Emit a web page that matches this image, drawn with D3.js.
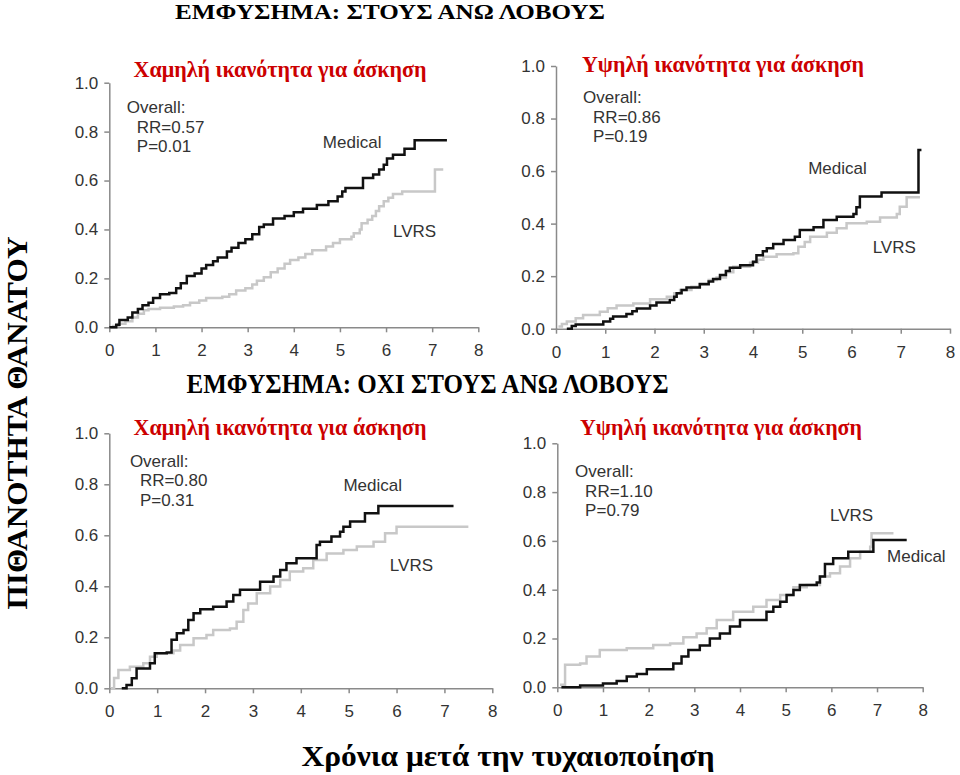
<!DOCTYPE html>
<html>
<head>
<meta charset="utf-8">
<script src="https://cdn.jsdelivr.net/npm/d3@7"></script>
<style>
  body { margin: 0; background: #fff; }
  .box { width: 960px; height: 775px; }
</style>
</head>
<body>
<div class="box"></div>
<script>
// tick labels
const xTicks = [0, 1, 2, 3, 4, 5, 6, 7, 8];
const yTicks = [0, 0.2, 0.4, 0.6, 0.8, 1.0];

// texts
const mainTitleTop = 'ΕΜΦΥΣΗΜΑ: ΣΤΟΥΣ ΑΝΩ ΛΟΒΟΥΣ';
const mainTitleBottom = 'ΕΜΦΥΣΗΜΑ: ΟΧΙ ΣΤΟΥΣ ΑΝΩ ΛΟΒΟΥΣ';
const yLabel = 'ΠΙΘΑΝΟΤΗΤΑ ΘΑΝΑΤΟΥ';
const xLabel = 'Χρόνια μετά την τυχαιοποίηση';
const panelTitles = ['Χαμηλή ικανότητα για άσκηση', 'Υψηλή ικανότητα για άσκηση',
                     'Χαμηλή ικανότητα για άσκηση', 'Υψηλή ικανότητα για άσκηση'];
const rrValues = ['RR=0.57', 'RR=0.86', 'RR=0.80', 'RR=1.10'];
const pValues = ['P=0.01', 'P=0.19', 'P=0.31', 'P=0.79'];

// step curves [years, probability] - upper lobe, low exercise
const tlMedical = [[0,0],[0.15,0.01],[0.22,0.03],[0.4,0.04],[0.5,0.06],[0.62,0.075],[0.72,0.09],[0.85,0.1],[0.95,0.12],
  [1.1,0.135],[1.3,0.14],[1.45,0.16],[1.55,0.18],[1.68,0.21],[1.85,0.22],[2.0,0.24],[2.1,0.255],[2.25,0.27],[2.35,0.285],
  [2.55,0.31],[2.65,0.325],[2.8,0.345],[2.95,0.36],[3.1,0.38],[3.25,0.41],[3.35,0.42],[3.55,0.445],[3.8,0.455],[4.0,0.47],
  [4.2,0.485],[4.5,0.5],[4.75,0.515],[4.95,0.535],[5.05,0.555],[5.12,0.57],[5.5,0.61],[5.72,0.625],[5.85,0.645],
  [5.95,0.665],[6.02,0.69],[6.15,0.705],[6.4,0.73],[6.62,0.765],[7.32,0.765]];
const tlLVRS = [[0,0],[0.08,0.005],[0.2,0.015],[0.35,0.025],[0.5,0.04],[0.62,0.055],[0.75,0.07],[0.85,0.075],[1.1,0.08],
  [1.4,0.085],[1.6,0.09],[1.75,0.1],[1.95,0.11],[2.1,0.12],[2.45,0.125],[2.6,0.135],[2.75,0.15],[2.95,0.16],[3.1,0.175],
  [3.2,0.19],[3.35,0.205],[3.5,0.225],[3.65,0.24],[3.8,0.26],[3.92,0.275],[4.1,0.285],[4.25,0.3],[4.4,0.315],[4.7,0.33],
  [4.85,0.345],[5.0,0.36],[5.25,0.37],[5.3,0.385],[5.43,0.4],[5.47,0.425],[5.6,0.44],[5.7,0.455],[5.78,0.475],
  [5.85,0.495],[5.95,0.515],[6.05,0.53],[6.15,0.545],[6.35,0.555],[7.06,0.645],[7.24,0.645]];

// upper lobe, high exercise
const trMedical = [[0.22,0],[0.32,0.01],[0.4,0.016],[0.96,0.027],[1.1,0.038],[1.16,0.046],[1.43,0.056],[1.55,0.066],
  [1.64,0.077],[1.91,0.088],[2.04,0.1],[2.31,0.109],[2.4,0.122],[2.45,0.135],[2.55,0.147],[2.65,0.157],[2.92,0.169],
  [3.1,0.18],[3.19,0.189],[3.33,0.204],[3.45,0.22],[3.53,0.232],[3.74,0.242],[4.0,0.255],[4.07,0.28],[4.2,0.295],
  [4.28,0.306],[4.41,0.322],[4.62,0.338],[4.85,0.35],[4.95,0.376],[5.23,0.386],[5.43,0.414],[5.7,0.426],[6.04,0.437],
  [6.1,0.462],[6.17,0.503],[6.61,0.518],[7.36,0.68],[7.42,0.68]];
const trLVRS = [[0.05,0.008],[0.12,0.018],[0.22,0.027],[0.4,0.04],[0.55,0.052],[0.89,0.065],[1.05,0.078],[1.23,0.088],
  [1.57,0.096],[1.91,0.112],[2.25,0.122],[2.4,0.135],[2.52,0.147],[2.75,0.16],[2.92,0.173],[3.1,0.185],[3.26,0.195],
  [3.45,0.215],[3.6,0.236],[3.94,0.251],[4.1,0.262],[4.21,0.274],[4.48,0.283],[4.82,0.287],[4.92,0.312],[5.05,0.33],
  [5.16,0.35],[5.5,0.365],[5.7,0.382],[5.9,0.401],[6.31,0.407],[6.58,0.423],[6.92,0.437],[6.98,0.464],[7.12,0.5],
  [7.39,0.5]];

// other lobes, low exercise
const blMedical = [[0.26,0],[0.36,0.013],[0.47,0.039],[0.57,0.078],[0.78,0.078],[0.85,0.098],[0.95,0.137],[1.2,0.14],
  [1.3,0.19],[1.41,0.216],[1.55,0.229],[1.65,0.268],[1.76,0.294],[1.9,0.31],[2.17,0.32],[2.45,0.34],[2.59,0.366],
  [2.73,0.386],[3.15,0.418],[3.43,0.438],[3.57,0.464],[3.7,0.49],[3.91,0.51],[4.33,0.562],[4.4,0.575],[4.64,0.595],
  [4.82,0.614],[4.89,0.634],[5.03,0.654],[5.34,0.686],[5.62,0.715],[7.19,0.715]];
const blLVRS = [[0.03,0],[0.1,0.04],[0.19,0.072],[0.43,0.085],[0.71,0.098],[0.85,0.124],[0.99,0.137],[1.34,0.148],
  [1.48,0.17],[1.76,0.196],[2.03,0.209],[2.17,0.229],[2.52,0.235],[2.66,0.261],[2.8,0.307],[2.9,0.333],[3.08,0.373],
  [3.36,0.399],[3.57,0.425],[3.77,0.458],[4.05,0.471],[4.26,0.503],[4.54,0.529],[4.89,0.542],[5.17,0.556],[5.52,0.575],
  [5.76,0.608],[6.0,0.634],[7.5,0.634]];

// other lobes, high exercise
const brMedical = [[0.09,0],[0.5,0.007],[1.0,0.016],[1.3,0.026],[1.52,0.044],[1.74,0.055],[1.96,0.074],[2.54,0.098],
  [2.72,0.126],[2.87,0.153],[3.12,0.171],[3.34,0.2],[3.56,0.221],[3.78,0.249],[4.0,0.276],[4.58,0.31],[4.73,0.33],
  [4.88,0.351],[5.02,0.378],[5.17,0.399],[5.31,0.419],[5.68,0.429],[5.75,0.454],[5.86,0.505],[6.04,0.529],[6.37,0.556],
  [6.92,0.604],[7.65,0.604]];
const brLVRS = [[0.06,0.01],[0.17,0.092],[0.5,0.098],[0.64,0.126],[0.93,0.153],[1.52,0.16],[2.1,0.173],[2.47,0.18],
  [2.76,0.205],[3.05,0.221],[3.27,0.242],[3.49,0.276],[3.85,0.31],[4.29,0.33],[4.58,0.358],[4.88,0.378],[5.17,0.41],
  [5.46,0.419],[5.75,0.454],[5.97,0.467],[6.19,0.495],[6.41,0.529],[6.63,0.556],[6.85,0.576],[6.88,0.631],[7.36,0.631]];

const svg = d3.select('.box')
              .append('svg')
              .attr('width', 960)
              .attr('height', 775);

const serif = '"Liberation Serif", "Times New Roman", serif';
const sans = '"Liberation Sans", Arial, sans-serif';

// panel layout (pixels) + label spots (data coords)
const panels = [
  {left: 109.3, right: 478.3, bottom: 327.3, top: 82.7, med: tlMedical, lvrs: tlLVRS,
   titleX: 280, titleY: 77, titleW: 293, ov: [0.38, 0.876], medAt: [4.63, 0.733], lvrsAt: [6.15, 0.369]},
  {left: 556, right: 950, bottom: 328.7, top: 66, med: trMedical, lvrs: trLVRS,
   titleX: 723, titleY: 72, titleW: 282, ov: [0.55, 0.858], medAt: [5.12, 0.59], lvrsAt: [6.43, 0.287]},
  {left: 109.3, right: 492.3, bottom: 688.3, top: 433.3, med: blMedical, lvrs: blLVRS,
   titleX: 280, titleY: 435, titleW: 293, ov: [0.43, 0.869], medAt: [4.89, 0.775], lvrsAt: [5.86, 0.461]},
  {left: 557.3, right: 922.7, bottom: 687.3, top: 443.3, med: brMedical, lvrs: brLVRS,
   titleX: 721, titleY: 435, titleW: 282, ov: [0.39, 0.861], medAt: [7.22, 0.515], lvrsAt: [5.97, 0.683]}
];

panels.forEach((p, i) => {

    const x = d3.scaleLinear().domain([0, 8]).range([p.left, p.right]);
    const y = d3.scaleLinear().domain([0, 1]).range([p.bottom, p.top]);

    const g = svg.append('g');

    // axes
    const xAxis = d3.axisBottom(x)
                    .tickValues(xTicks)
                    .tickFormat(d3.format('d'))
                    .tickSize(5)
                    .tickSizeOuter(0)
                    .tickPadding(12);

    const yAxis = d3.axisLeft(y)
                    .tickValues(yTicks)
                    .tickFormat(d3.format('.1f'))
                    .tickSize(5)
                    .tickSizeOuter(0)
                    .tickPadding(6);

    [g.append('g').attr('transform', `translate(0, ${p.bottom})`).call(xAxis),
     g.append('g').attr('transform', `translate(${p.left}, 0)`).call(yAxis)].forEach(a => {
        a.select('.domain').attr('stroke', '#8a8a8a').attr('stroke-width', 1.5);
        a.selectAll('.tick line').attr('stroke', '#8a8a8a').attr('stroke-width', 1.5);
        a.selectAll('.tick text')
         .attr('fill', '#333')
         .style('font-family', sans)
         .style('font-size', '17px');
    });

    // curves
    const line = d3.line()
                   .x(d => x(d[0]))
                   .y(d => y(d[1]))
                   .curve(d3.curveStepAfter);

    g.append('path')
     .attr('d', line(p.lvrs))
     .attr('fill', 'none')
     .attr('stroke', '#c8c8c8')
     .attr('stroke-width', 2.5);

    g.append('path')
     .attr('d', line(p.med))
     .attr('fill', 'none')
     .attr('stroke', '#111')
     .attr('stroke-width', 2.5);

    // panel title
    g.append('text')
     .attr('x', p.titleX)
     .attr('y', p.titleY)
     .attr('text-anchor', 'middle')
     .attr('textLength', p.titleW)
     .attr('lengthAdjust', 'spacingAndGlyphs')
     .attr('fill', '#cc0000')
     .style('font-family', serif)
     .style('font-weight', 'bold')
     .style('font-size', '23px')
     .text(panelTitles[i]);

    // overall stats
    const ox = x(p.ov[0]), oy = y(p.ov[1]);
    const stat = g.append('g')
                  .attr('fill', '#333')
                  .style('font-family', sans)
                  .style('font-size', '17px');
    stat.append('text').attr('x', ox).attr('y', oy).text('Overall:');
    stat.append('text').attr('x', ox + 10).attr('y', oy + 19.5).text(rrValues[i]);
    stat.append('text').attr('x', ox + 10).attr('y', oy + 39).text(pValues[i]);

    // curve labels
    stat.append('text').attr('x', x(p.medAt[0])).attr('y', y(p.medAt[1])).text('Medical');
    stat.append('text').attr('x', x(p.lvrsAt[0])).attr('y', y(p.lvrsAt[1])).text('LVRS');
});

// headings
const heading = (txt, cx, cy, w, size, rotate) => {
    svg.append('text')
       .attr('transform', `translate(${cx}, ${cy})` + (rotate ? ' rotate(-90)' : ''))
       .attr('text-anchor', 'middle')
       .attr('textLength', w)
       .attr('lengthAdjust', 'spacingAndGlyphs')
       .attr('fill', '#000')
       .style('font-family', serif)
       .style('font-weight', 'bold')
       .style('font-size', size + 'px')
       .text(txt);
};

heading(mainTitleTop, 390, 19, 430, 22);
heading(mainTitleBottom, 427.5, 393, 482, 27);
heading(yLabel, 27, 423, 373, 30, true);
heading(xLabel, 508, 766, 413, 30);
</script>
</body>
</html>
